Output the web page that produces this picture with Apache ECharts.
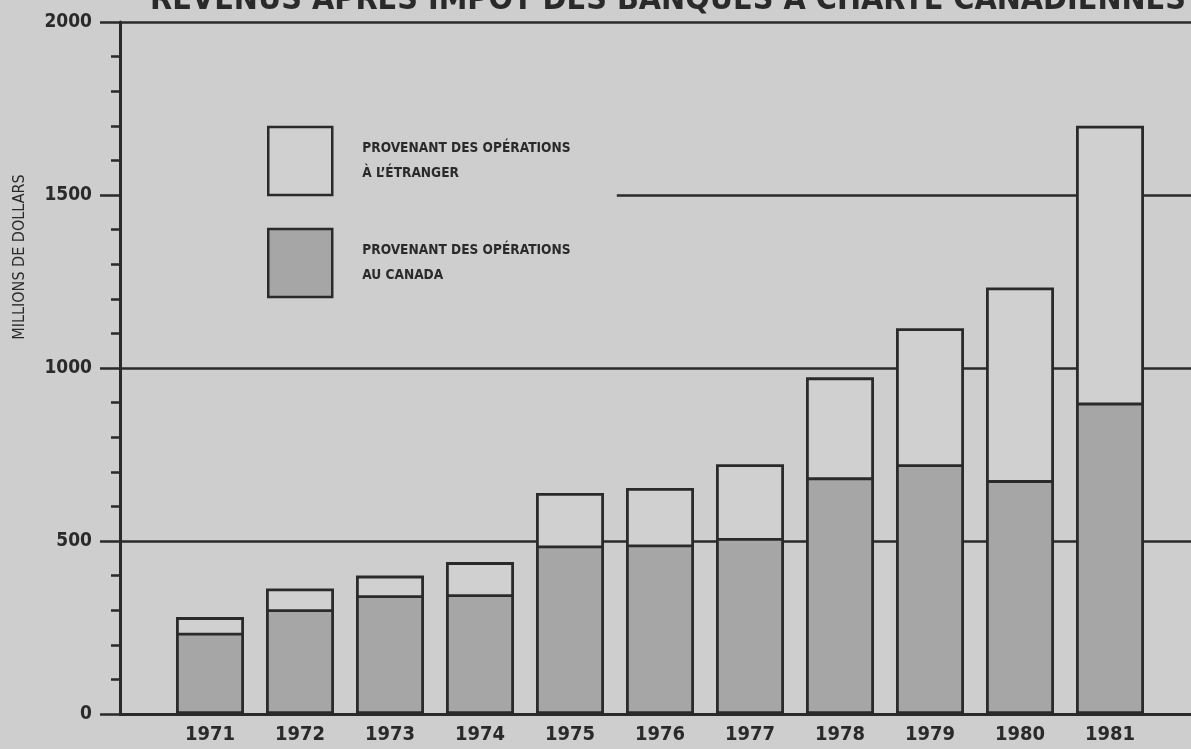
<!DOCTYPE html>
<html>
<head>
<meta charset="utf-8">
<script src="https://cdn.jsdelivr.net/npm/echarts@6/dist/echarts.min.js"></script>
<style>
html,body{margin:0;padding:0;background:#cecece;}
#chart{width:1191px;height:749px;}
</style>
</head>
<body>
<div id="chart"></div>
<script>
const titleText = 'REVENUS APRÈS IMPÔT DES BANQUES À CHARTE CANADIENNES';
const yAxisName = 'MILLIONS DE DOLLARS';
const years = ['1971','1972','1973','1974','1975','1976','1977','1978','1979','1980','1981'];
const canada = [235, 303, 343, 346, 487, 490, 509, 684, 722, 676, 900];
const foreign = [45, 60, 57, 93, 152, 163, 213, 289, 393, 557, 800];
const seriesNames = ['PROVENANT DES OPÉRATIONS\nÀ L\u2019ÉTRANGER', 'PROVENANT DES OPÉRATIONS\nAU CANADA'];
const yTicks = [0, 500, 1000, 1500, 2000];

const INK = '#2a2a2a';
const COND = "'Liberation Sans Narrow','DejaVu Sans Condensed',sans-serif";
const xMin = 1970, xMax = 1970 + 1071 / 90;

const chart = echarts.init(document.getElementById('chart'));
chart.setOption({
  backgroundColor: '#cecece',
  animation: false,
  title: {
    text: titleText, left: 145, top: -20,
    textStyle: {fontFamily: COND, fontWeight: 'bold', fontSize: 32, color: INK}
  },
  legend: {
    orient: 'vertical', left: 262, top: 120,
    data: [seriesNames[0], seriesNames[1]],
    itemWidth: 64, itemHeight: 68, itemGap: 30,
    icon: 'rect',
    itemStyle: {borderColor: INK, borderWidth: 2.5},
    textStyle: {fontFamily: COND, fontWeight: 'bold', fontSize: 13.6, color: INK, lineHeight: 25, padding: [0, 0, 22, 25]}
  },
  grid: {left: 120, right: 0, top: 22, bottom: 35, outerBoundsMode: 'none', containLabel: false},
  xAxis: {
    type: 'value', min: xMin, max: xMax, interval: 1,
    axisLine: {show: true, onZero: false, lineStyle: {color: INK, width: 3}},
    axisTick: {show: false},
    splitLine: {show: false},
    axisLabel: {
      margin: 11, color: INK, fontFamily: COND, fontWeight: 'bold', fontSize: 20,
      showMaxLabel: false,
      formatter: v => (years.indexOf(String(v)) >= 0 ? String(v) : '')
    }
  },
  yAxis: {
    type: 'value', min: yTicks[0], max: yTicks[yTicks.length - 1], interval: 500,
    name: yAxisName, nameLocation: 'middle', nameRotate: 90, nameGap: 92,
    nameTextStyle: {fontFamily: COND, fontSize: 16, color: INK, padding: [0, 0, 0, 222]},
    axisLine: {show: true, lineStyle: {color: INK, width: 3}},
    axisTick: {show: true, length: 20, lineStyle: {color: INK, width: 2.5}},
    minorTick: {show: true, splitNumber: 5, length: 9, lineStyle: {color: INK, width: 2.5}},
    axisLabel: {margin: 28, color: INK, fontFamily: COND, fontWeight: 'bold', fontSize: 19, formatter: v => String(v)},
    splitLine: {show: true, lineStyle: {color: ['rgba(0,0,0,0)', INK, INK, 'rgba(0,0,0,0)', INK], width: 2.5}}
  },
  series: [
    {
      name: seriesNames[0], type: 'bar', barWidth: 68, barGap: '-100%',
      data: years.map((y, i) => [Number(y), canada[i] + foreign[i]]),
      itemStyle: {color: '#d0d0d0', borderColor: INK, borderWidth: 2.8},
      markLine: {
        silent: true, symbol: 'none', z: 1, label: {show: false},
        lineStyle: {color: INK, width: 2.5, type: 'solid'},
        data: [[{coord: [1975.52, yTicks[3]]}, {coord: [xMax, yTicks[3]]}]]
      }
    },
    {
      name: seriesNames[1], type: 'bar', barWidth: 68, barGap: '-100%',
      data: years.map((y, i) => [Number(y), canada[i]]),
      itemStyle: {color: '#a6a6a6', borderColor: INK, borderWidth: 2.8}
    }
  ]
});
</script>
</body>
</html>
